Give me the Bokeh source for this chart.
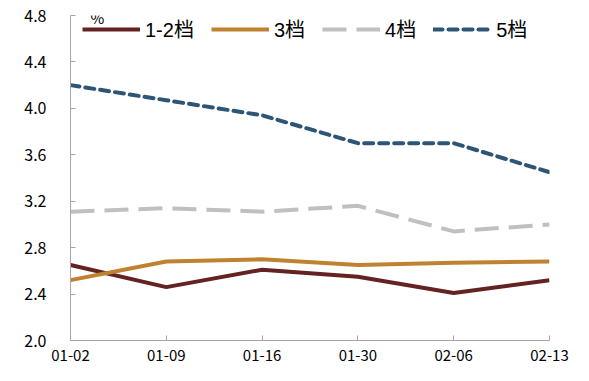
from bokeh.plotting import figure
from bokeh.models import Range1d, FixedTicker, Legend, LegendItem, Label
from bokeh.embed import file_html
from bokeh.resources import INLINE

dates = ["01-02", "01-09", "01-16", "01-30", "02-06", "02-13"]
tier_12 = [2.65, 2.46, 2.61, 2.55, 2.41, 2.52]
tier_3 = [2.52, 2.68, 2.70, 2.65, 2.67, 2.68]
tier_4 = [3.11, 3.14, 3.11, 3.16, 2.94, 3.00]
tier_5 = [4.20, 4.07, 3.94, 3.70, 3.70, 3.45]
y_ticks = [2.0, 2.4, 2.8, 3.2, 3.6, 4.0, 4.4, 4.8]

xs = list(range(len(dates)))
FONT = "Noto Sans CJK SC"

p = figure(width=573, height=365, frame_width=479, frame_height=325,
           min_border_left=70, min_border_top=15, min_border_right=24, min_border_bottom=25,
           output_backend="svg", toolbar_location=None,
           x_range=Range1d(0, len(dates) - 1), y_range=Range1d(2.0, 4.8))
p.outline_line_color = None
p.xgrid.visible = False
p.ygrid.visible = False

r12 = p.line(xs, tier_12, line_color="#642322", line_width=4)
r3 = p.line(xs, tier_3, line_color="#C08230", line_width=4)
r4 = p.line(xs, tier_4, line_color="#C0C0C0", line_width=4, line_dash="24 10")
r5 = p.line(xs, tier_5, line_color="#2C5576", line_width=4, line_dash="9 6", line_cap="round")

for ax in (p.xaxis[0], p.yaxis[0]):
    ax.axis_line_color = "#A6A6A6"
    ax.major_tick_line_color = "#A6A6A6"
    ax.major_tick_in = 5
    ax.major_tick_out = 0
    ax.minor_tick_line_color = None
    ax.major_label_text_font = FONT
    ax.major_label_text_font_size = "15px"
    ax.major_label_text_color = "#000000"

p.xaxis.ticker = FixedTicker(ticks=xs)
p.xaxis.major_label_overrides = {i: d for i, d in enumerate(dates)}
p.xaxis.major_label_standoff = 9
p.yaxis.ticker = FixedTicker(ticks=y_ticks)
p.yaxis.major_label_overrides = {t: f"{t:.1f}" for t in y_ticks}
p.yaxis.major_label_text_font_size = "16px"
p.yaxis.major_label_standoff = 24

legend = Legend(items=[
    LegendItem(label="1-2档", renderers=[r12]),
    LegendItem(label="3档", renderers=[r3]),
    LegendItem(label="4档", renderers=[r4]),
    LegendItem(label="5档", renderers=[r5]),
], orientation="horizontal", location=(12, 297), border_line_color=None,
    background_fill_alpha=0, padding=0, margin=0, spacing=17,
    glyph_width=58, glyph_height=22, label_standoff=5,
    label_text_font="Liberation Sans, Noto Sans CJK SC", label_text_font_size="20px",
    label_text_color="#000000", label_height=22)
p.add_layout(legend, "center")

p.add_layout(Label(x=0.28, y=4.78, text="%", text_font=FONT, text_font_size="15px",
                   text_color="#000000", text_align="center", text_baseline="middle"))

open("out.html", "w").write(file_html(p, INLINE))
